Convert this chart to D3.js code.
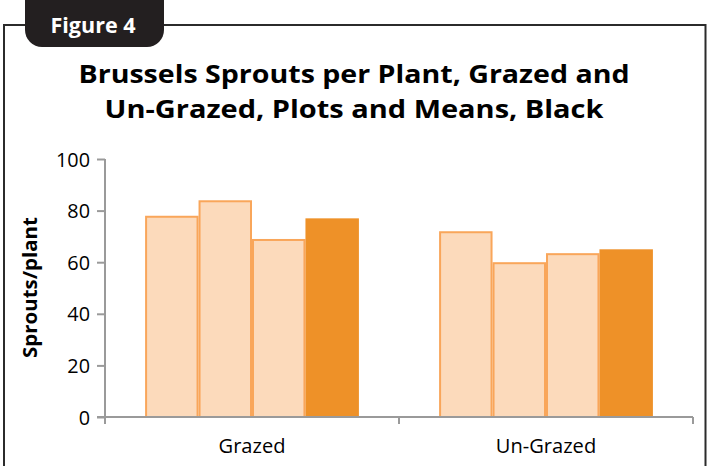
<!DOCTYPE html>
<html><head><meta charset="utf-8">
<script src="https://cdn.jsdelivr.net/npm/d3@7"></script>
<style>body{margin:0;background:#fff}svg{display:block}</style>
</head><body>
<script>
const categories = ["Grazed", "Un-Grazed"];
const seriesNames = ["Plot 1", "Plot 2", "Plot 3", "Mean"];
const plot1 = [78, 72];
const plot2 = [84, 60];
const plot3 = [69, 63.5];
const means = [77, 65];
const yTicks = [0, 20, 40, 60, 80, 100];
const titleLines = ["Brussels Sprouts per Plant, Grazed and", "Un-Grazed, Plots and Means, Black"];
const yLabel = "Sprouts/plant";
const figLabel = "Figure 4";

const W = 709, H = 466;
const FONT = "Open Sans, sans-serif";
const svg = d3.select("body").append("svg").attr("width", W).attr("height", H);

function fitSize(sel, targetW) {
  const base = +sel.attr("font-size");
  const w = sel.node().getComputedTextLength();
  sel.attr("font-size", base * targetW / w);
  return base * targetW / w;
}

// frame
svg.append("path").attr("d", `M4,${H+5} L4,25 L705.5,25 L705.5,${H+5}`)
  .attr("fill", "none").attr("stroke", "#2b2b2b").attr("stroke-width", 2);
// tab
svg.append("rect").attr("x", 25).attr("y", -20).attr("width", 139).attr("height", 67)
  .attr("rx", 17).attr("fill", "#231f20");
const fig = svg.append("text").attr("x", 93).attr("y", 33).attr("text-anchor", "middle")
  .attr("font-family", FONT).attr("font-weight", 700).attr("font-size", 16)
  .attr("fill", "#fff").text(figLabel);
fitSize(fig, 85);

// title
const tTargets = [551, 499];
titleLines.forEach((t, i) => {
  svg.append("text").attr("x", 354).attr("y", 83 + i * 35).attr("text-anchor", "middle")
    .attr("font-family", FONT).attr("font-weight", 700).attr("font-size", 25)
    .attr("textLength", tTargets[i]).attr("lengthAdjust", "spacingAndGlyphs")
    .attr("fill", "#000").text(t);
});

const x0 = d3.scaleBand().domain(categories).range([105, 693]).paddingInner(0).paddingOuter(0);
const y = d3.scaleLinear().domain([0, 100]).range([417, 159]);
const inner = d3.scaleBand().domain(seriesNames).range([0, x0.bandwidth()]).paddingOuter(0.75).paddingInner(0);

const data = categories.map((c, i) => ({cat: c, vals: [plot1[i], plot2[i], plot3[i], means[i]]}));

const g = svg.append("g");
data.forEach(d => {
  d.vals.forEach((v, j) => {
    const isMean = j === 3;
    const bx = x0(d.cat) + inner(seriesNames[j]);
    g.append("rect")
      .attr("x", bx + (isMean ? 0 : 1)).attr("y", y(v) + (isMean ? 0 : 1))
      .attr("width", inner.bandwidth() - (isMean ? 0 : 2)).attr("height", y(0) - y(v) - (isMean ? 0 : 1))
      .attr("fill", isMean ? "#ee9128" : "#fcdabb")
      .attr("stroke", isMean ? "none" : "#f9a65a").attr("stroke-width", 2);
  });
});

// y axis
const yAxis = d3.axisLeft(y).tickValues(yTicks).tickSize(8).tickPadding(7);
const ya = svg.append("g").attr("transform", "translate(105,0)").call(yAxis);
ya.select(".domain").attr("stroke", "#9a9a9a").attr("stroke-width", 2).attr("d", `M0,${y(100)}V${y(0)}`);
ya.selectAll(".tick line").attr("stroke", "#9a9a9a").attr("stroke-width", 2);
ya.selectAll(".tick text").attr("font-family", FONT).attr("font-size", 17).attr("fill", "#000");
const t100 = ya.selectAll(".tick text").filter(d => d === 100);
const tickFs = fitSize(t100, 34);
ya.selectAll(".tick text").attr("font-size", tickFs).attr("dy", "0.36em");

// x axis
const xa = svg.append("g").attr("transform", `translate(0,${y(0)})`);
xa.append("line").attr("x1", 97).attr("x2", 693).attr("y1", 0).attr("y2", 0).attr("stroke", "#9a9a9a").attr("stroke-width", 2);
const bounds = [x0.range()[0], ...categories.map(c => x0(c) + x0.bandwidth())];
xa.selectAll("line.tk").data(bounds).enter().append("line").attr("class", "tk")
  .attr("x1", d => d).attr("x2", d => d).attr("y1", 0).attr("y2", 7)
  .attr("stroke", "#9a9a9a").attr("stroke-width", 2);
const cats = xa.selectAll("text.cat").data(categories).enter().append("text").attr("class", "cat")
  .attr("x", d => x0(d) + x0.bandwidth() / 2).attr("y", 36).attr("text-anchor", "middle")
  .attr("font-family", FONT).attr("font-size", 17).attr("fill", "#000").text(d => d);
const catFs = fitSize(cats.filter(d => d === "Grazed"), 67);
cats.attr("font-size", catFs);

// y label
const yl = svg.append("text").attr("transform", "translate(36.5,287.5) rotate(-90)").attr("text-anchor", "middle")
  .attr("font-family", FONT).attr("font-weight", 700).attr("font-size", 16)
  .attr("fill", "#000").text(yLabel);
fitSize(yl, 141);
</script>
</body></html>
